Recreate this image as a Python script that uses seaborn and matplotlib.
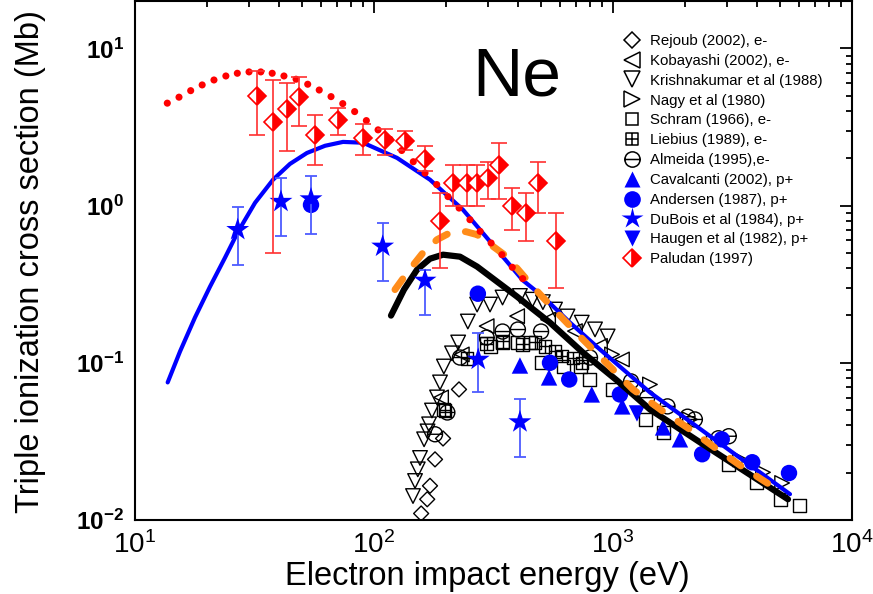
import numpy as np
import matplotlib
matplotlib.use("Agg")
import matplotlib.pyplot as plt
from matplotlib import font_manager, ticker
from matplotlib.path import Path
from matplotlib.lines import Line2D
import seaborn as sns

# ---------------------------------------------------------------------------
# Data: energies in eV, cross sections in Mb
# ---------------------------------------------------------------------------
# theory curves
blue_E = [13.7, 15.43, 17.82, 20.6, 23.8, 26.98, 31.8, 37.8, 44.5, 52.4, 62.4, 74.2,
          90.0, 124.8, 171.5, 235.7, 277.7, 343, 419, 509, 661, 882, 1428, 2805, 5503]
blue_S = [0.075, 0.118, 0.194, 0.305, 0.466, 0.682, 1.042, 1.46, 1.84, 2.16, 2.40, 2.54,
          2.51, 2.01, 1.46, 0.940, 0.702, 0.480, 0.335, 0.264, 0.180, 0.1215, 0.0648,
          0.0307, 0.0146]

black_E = [117.8, 133.5, 151.4, 171.5, 194.4, 229, 270, 396, 545, 749, 1039,
           1428, 2312, 5397]
black_S = [0.1996, 0.292, 0.391, 0.459, 0.487, 0.473, 0.409, 0.264, 0.180, 0.116,
           0.0772, 0.0505, 0.0312, 0.01355]

orange_E = [122.4, 138.8, 160.3, 183.5, 212, 242.6, 270, 360, 462, 583, 749, 971,
            1212, 1619, 2099, 2723, 3499, 4996]
orange_S = [0.292, 0.380, 0.501, 0.607, 0.682, 0.682, 0.653, 0.473, 0.305, 0.2087,
            0.1406, 0.0947, 0.0677, 0.0491, 0.0377, 0.0282, 0.0216, 0.01524]

red_E = [13.65, 15.28, 17.1, 19.1, 21.4, 24.0, 26.8, 30.0, 33.6, 37.5, 42.0, 47.2,
         52.8, 59.0, 66.1, 74.0, 83.0, 92.9, 104, 116.7, 130.6, 146, 163.5, 183,
         204, 227, 252, 278, 309, 343, 379, 419]
red_S = [4.48, 4.89, 5.38, 5.85, 6.29, 6.67, 6.94, 7.08, 7.08, 6.94, 6.67, 6.36,
         5.91, 5.43, 4.93, 4.45, 3.96, 3.47, 3.03, 2.64, 2.24, 1.90, 1.61, 1.36,
         1.14, 0.964, 0.813, 0.685, 0.578, 0.487, 0.405, 0.343]

# electron impact measurements
rejoub_E = [157.5, 167, 171.5, 180, 194.5, 226.8]
rejoub_S = [0.0110, 0.01355, 0.0165, 0.0243, 0.0330, 0.0677]

kobayashi_E = [190.8, 233, 296, 397, 535, 693, 882, 1090]
kobayashi_S = [0.0602, 0.113, 0.171, 0.198, 0.188, 0.159, 0.128, 0.105]

krishna_E = [145.6, 148.5, 152.5, 155.8, 162, 167.5, 170, 174.8, 183.5, 188.9, 196,
             212, 225, 247, 270, 305.8, 345, 408, 460, 509, 572, 645, 740, 841, 950]
krishna_S = [0.0142, 0.0177, 0.0210, 0.0248, 0.0326, 0.0366, 0.0406, 0.0497, 0.0602,
             0.0750, 0.0947, 0.1148, 0.1346, 0.183, 0.2346, 0.2346, 0.260, 0.266,
             0.252, 0.243, 0.218, 0.197, 0.180, 0.163, 0.147]

nagy_E = [991, 1428, 2099, 2640, 3400, 4243, 5100]
nagy_S = [0.113, 0.0728, 0.0436, 0.0316, 0.0243, 0.0201, 0.0172]

schram_E = [196, 305.8, 345, 397, 449.6, 500, 618, 728, 801, 998, 1365, 1620,
            3030, 4000, 5000, 6057]
schram_S = [0.0505, 0.127, 0.1346, 0.1346, 0.1346, 0.1004, 0.0947, 0.0947, 0.0783,
            0.0677, 0.0436, 0.0361, 0.0226, 0.0174, 0.01355, 0.0123]

liebius_E = [198, 244.6, 296, 345, 419, 471.7, 519, 572, 611, 680, 740]
liebius_S = [0.0498, 0.1065, 0.1326, 0.1366, 0.1307, 0.1346, 0.127, 0.118, 0.110,
             0.1075, 0.100]

almeida_E = [180, 202.7, 229, 296, 345, 400, 500, 801, 1190, 1390, 1690, 2050,
             2200, 2760, 3050]
almeida_S = [0.0351, 0.0483, 0.108, 0.1447, 0.158, 0.1627, 0.158, 0.108, 0.0761,
             0.060, 0.0528, 0.0454, 0.0436, 0.0331, 0.0341]

# proton impact measurements
cavalcanti_E = [408, 540, 815, 1093, 1620, 1906]
cavalcanti_S = [0.0961, 0.0807, 0.0629, 0.0528, 0.0388, 0.0326]

andersen_E = [54.5, 272, 545, 656, 1069, 2360, 2850, 3825, 5450]
andersen_S = [1.01, 0.275, 0.100, 0.0783, 0.0629, 0.0262, 0.0326, 0.0233, 0.0199]

dubois_E = [26.9, 40.8, 54.5, 108.7, 163.5, 273, 408]
dubois_S = [0.702, 1.06, 1.10, 0.550, 0.334, 0.105, 0.042]
dubois_lo = [0.421, 0.637, 0.662, 0.333, 0.200, 0.0649, 0.0253]
dubois_hi = [0.973, 1.50, 1.55, 0.774, 0.391, 0.155, 0.059]

haugen_E = [1260]
haugen_S = [0.0476]

paludan_E = [32.3, 37.9, 43.4, 48.7, 56.6, 70.9, 90.2, 111.2, 134.8, 163.5, 188.9,
             214.6, 244.2, 270.5, 300.8, 333.4, 376.8, 432.5, 487, 575.4]
paludan_S = [4.98, 3.42, 4.10, 4.89, 2.79, 3.51, 2.67, 2.62, 2.59, 1.99, 0.803,
             1.40, 1.40, 1.40, 1.50, 1.80, 0.997, 0.896, 1.40, 0.598]
paludan_hi = [7.2, 6.29, 6.0, 6.6, 3.77, 4.20, 3.29, 3.07, 3.0, 2.40, 1.20, 1.80,
              1.80, 1.80, 1.89, 2.49, 1.29, 1.20, 1.89, 0.896]
paludan_lo = [2.79, 0.499, 2.21, 3.21, 1.80, 2.79, 2.10, 2.10, 2.24, 1.67, 0.401,
              0.997, 0.997, 0.997, 1.10, 1.10, 0.702, 0.598, 0.896, 0.299]

legend_labels = ["Rejoub (2002), e-", "Kobayashi (2002), e-", "Krishnakumar et al (1988)",
                 "Nagy et al (1980)", "Schram (1966), e-", "Liebius (1989), e-",
                 "Almeida (1995),e-", "Cavalcanti (2002), p+", "Andersen (1987), p+",
                 "DuBois et al (1984), p+", "Haugen et al (1982), p+", "Paludan (1997)"]

x_ticks = [10, 100, 1000, 10000]
y_ticks = [0.01, 0.1, 1, 10]

# ---------------------------------------------------------------------------
# Styling
# ---------------------------------------------------------------------------
sns.set_style("white")


def have_font(name):
    try:
        font_manager.findfont(font_manager.FontProperties(family=name),
                              fallback_to_default=False)
        return True
    except Exception:
        return False


if have_font("Liberation Sans Narrow"):
    narrow_family = "Liberation Sans Narrow"
    xtick_size, xlabel_size = 23.5, 28.5
else:
    narrow_family = "Liberation Sans"
    xtick_size, xlabel_size = 20, 23.5

plt.rcParams.update({
    "font.family": ["Liberation Sans", "DejaVu Sans"],
    "mathtext.fontset": "custom",
    "mathtext.rm": "Liberation Sans",
    "mathtext.it": "Liberation Sans:italic",
    "mathtext.bf": "Liberation Sans:bold",
    "axes.unicode_minus": False,
    "axes.linewidth": 1.5,
    "text.color": "black",
    "axes.labelcolor": "black",
    "axes.edgecolor": "black",
    "xtick.color": "black",
    "ytick.color": "black",
    "xtick.labelcolor": "black",
    "ytick.labelcolor": "black",
})

# square with a cross, circle with a bar
box_cross = Path([(-1, -1), (1, -1), (1, 1), (-1, 1), (-1, -1),
                  (0, -1), (0, 1), (-1, 0), (1, 0)],
                 [Path.MOVETO, Path.LINETO, Path.LINETO, Path.LINETO, Path.CLOSEPOLY,
                  Path.MOVETO, Path.LINETO, Path.MOVETO, Path.LINETO])
circle_bar = Path.make_compound_path(
    Path.unit_circle(), Path([(-1, 0), (1, 0)], [Path.MOVETO, Path.LINETO]))

fig = plt.figure(figsize=(8.73, 5.94), dpi=100)
ax = fig.add_axes([135 / 873, 74 / 594, 717 / 873, 519 / 594])
ax.set_xscale("log")
ax.set_yscale("log")

# open symbols (electron impact)
open_sets = [
    (rejoub_E, rejoub_S, "D", 58),
    (kobayashi_E, kobayashi_S, "<", 110),
    (krishna_E, krishna_S, "v", 110),
    (nagy_E, nagy_S, ">", 110),
    (schram_E, schram_S, "s", 88),
    (liebius_E, liebius_S, box_cross, 80),
    (almeida_E, almeida_S, circle_bar, 117),
]
for xs, ys, mk, size in open_sets:
    sns.scatterplot(x=xs, y=ys, ax=ax, marker=mk, s=size, facecolor="none",
                    edgecolor="black", linewidth=1.0, zorder=3)

# filled blue symbols (proton impact)
sns.scatterplot(x=cavalcanti_E, y=cavalcanti_S, ax=ax, marker="^", s=140,
                color="#0000ff", edgecolor="none", zorder=3)
sns.scatterplot(x=andersen_E, y=andersen_S, ax=ax, marker="o", s=140,
                color="#0000ff", edgecolor="none", zorder=3)
sns.scatterplot(x=haugen_E, y=haugen_S, ax=ax, marker="v", s=140,
                color="#0000ff", edgecolor="none", zorder=3)

# theory curves
sns.lineplot(x=blue_E, y=blue_S, ax=ax, color="#0000ff", linewidth=3.0,
             sort=False, estimator=None, zorder=4)
sns.lineplot(x=black_E, y=black_S, ax=ax, color="black", linewidth=4.5,
             sort=False, estimator=None, zorder=5, solid_capstyle="round")
sns.lineplot(x=orange_E, y=orange_S, ax=ax, color="#ff8c1a", linewidth=5.0,
             sort=False, estimator=None, zorder=6,
             linestyle=(0, (1.9, 2.7)), dash_capstyle="round")
sns.scatterplot(x=red_E, y=red_S, ax=ax, color="#ff0000", s=26,
                edgecolor="none", zorder=7)

# DuBois stars with error bars
d_S = np.array(dubois_S)
ax.errorbar(dubois_E, dubois_S,
            yerr=[d_S - np.array(dubois_lo), np.array(dubois_hi) - d_S],
            fmt="none", ecolor="#4d5cff", elinewidth=1.3, capsize=4.5,
            capthick=1.3, zorder=8)
sns.scatterplot(x=dubois_E, y=dubois_S, ax=ax, marker="*", s=300,
                color="#0000ff", edgecolor="none", zorder=9)

# Paludan half-filled diamonds with error bars
p_S = np.array(paludan_S)
ax.errorbar(paludan_E, paludan_S,
            yerr=[p_S - np.array(paludan_lo), np.array(paludan_hi) - p_S],
            fmt="D", ms=8.7, fillstyle="right", markerfacecolor="#ff0000",
            markerfacecoloralt="white", markeredgecolor="#ff0000",
            markeredgewidth=1.2, ecolor="#ff3030", elinewidth=1.2,
            capsize=5.5, capthick=1.2, zorder=10)

# axes
ax.set_xlim(10, 10000)
ax.set_ylim(0.01, 20)
ax.set_xticks(x_ticks, labels=[r"$\mathdefault{10^{%d}}$" % round(np.log10(v)) for v in x_ticks],
              fontsize=xtick_size, fontfamily=narrow_family)
ax.set_yticks(y_ticks, labels=[r"$\mathdefault{10^{%d}}$" % round(np.log10(v)) for v in y_ticks],
              fontsize=17.5, fontweight="bold")
ax.xaxis.set_minor_locator(ticker.LogLocator(base=10, subs=np.arange(2, 10), numticks=20))
ax.yaxis.set_minor_locator(ticker.LogLocator(base=10, subs=np.arange(2, 10), numticks=20))
ax.xaxis.set_minor_formatter(ticker.NullFormatter())
ax.yaxis.set_minor_formatter(ticker.NullFormatter())
ax.tick_params(which="both", direction="in", top=True, right=True, width=1.3,
               color="black", labelcolor="black")
ax.tick_params(which="major", length=8.5)
ax.tick_params(which="minor", length=4.5)
ax.tick_params(axis="x", which="major", pad=8)
ax.tick_params(axis="y", which="major", pad=8)
for sp in ax.spines.values():
    sp.set_color("black")
    sp.set_linewidth(1.5)
ax.set_xlabel("")
ax.set_ylabel("")

fig.text(487 / 873, 1 - 585 / 594, "Electron impact energy (eV)", ha="center",
         va="baseline", fontsize=xlabel_size, fontfamily=narrow_family, color="black")
fig.text(31 / 873, 1 - 262 / 594, "Triple ionization cross section (Mb)", rotation=90,
         ha="center", va="center", fontsize=23.5, color="black")
fig.text(517 / 873, 1 - 95 / 594, "Ne", ha="center", va="baseline", fontsize=50,
         color="black")

# legend
def open_handle(mk, ms):
    return Line2D([], [], ls="none", marker=mk, ms=ms, mfc="none", mec="black", mew=1.1)


def blue_handle(mk, ms):
    return Line2D([], [], ls="none", marker=mk, ms=ms, mfc="#0000ff", mec="none")


handles = [
    open_handle("D", 8.5), open_handle("<", 11), open_handle("v", 11),
    open_handle(">", 11), open_handle("s", 9), open_handle(box_cross, 9),
    open_handle(circle_bar, 11),
    blue_handle("^", 12), blue_handle("o", 12), blue_handle("*", 16),
    blue_handle("v", 12),
    Line2D([], [], ls="none", marker="D", ms=9, fillstyle="right", mfc="#ff0000",
           mfcalt="white", mec="#ff0000", mew=1.2),
]
leg = ax.legend(handles, legend_labels, loc="upper left",
                bbox_to_anchor=(622 / 873, 1 - 34 / 594), bbox_transform=fig.transFigure,
                frameon=False, fontsize=10.8, handlelength=1.3, handletextpad=0.55,
                labelspacing=0.39, borderpad=0, borderaxespad=0)
for t in leg.get_texts():
    t.set_color("black")

fig.savefig("out.png", dpi=100)
